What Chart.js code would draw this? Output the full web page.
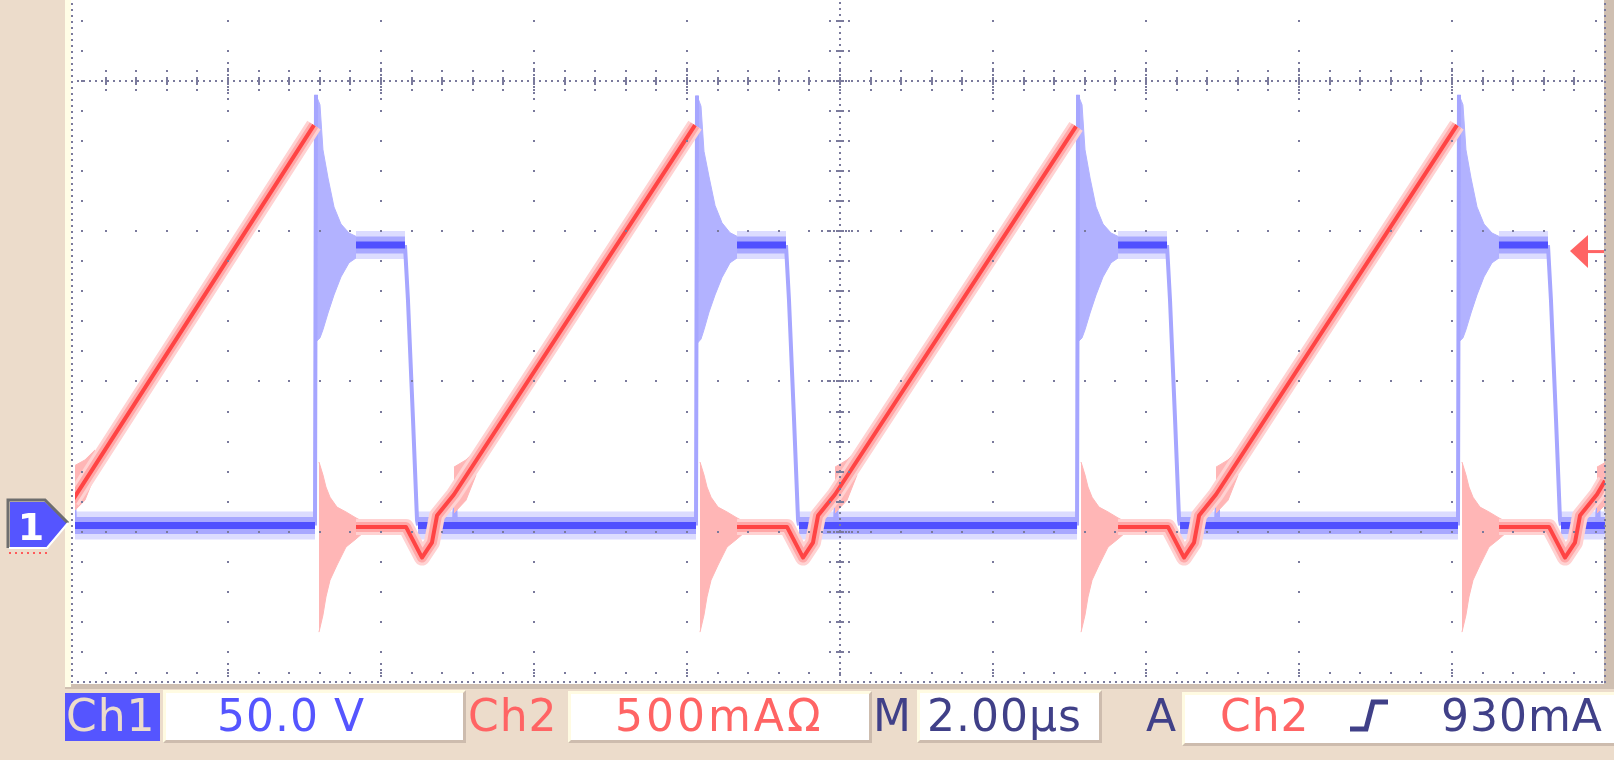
<!DOCTYPE html>
<html><head><meta charset="utf-8">
<script src="https://cdn.jsdelivr.net/npm/chart.js@4.4.0/dist/chart.umd.min.js"></script>
<style>
html,body{margin:0;padding:0;background:#ecdccb;overflow:hidden;}
#wrap{position:relative;width:1614px;height:760px;}
#c{position:absolute;left:0;top:0;}
.box{position:absolute;background:#fff;box-sizing:border-box;border-top:3px solid #fffbe2;border-left:3px solid #fffbe2;border-right:3px solid #cdbcae;border-bottom:3px solid #cdbcae;}
.t{position:absolute;top:694px;font-family:"DejaVu Sans";font-size:44px;line-height:44px;letter-spacing:1px;white-space:nowrap;}
#ov{position:absolute;left:0;top:0;}
</style></head>
<body><div id="wrap">
<canvas id="c" width="1614" height="760"></canvas>
<div style="position:absolute;left:65px;top:693px;width:95px;height:48px;background:#5555ff"></div>
<div class="t" style="left:66px;color:#ecdccb">Ch1</div>
<div class="box" style="left:163px;top:690px;width:303px;height:53px"></div>
<div class="t" style="left:217px;color:#5555ff">50.0 V</div>
<div class="t" style="left:468px;color:#ff6464">Ch2</div>
<div class="box" style="left:568px;top:691px;width:304px;height:52px"></div>
<div class="t" style="left:615px;color:#ff6464;letter-spacing:3px">500mAΩ</div>
<div class="t" style="left:873px;color:#404088">M</div>
<div class="box" style="left:917px;top:690px;width:185px;height:53px"></div>
<div class="t" style="left:927px;color:#404088">2.00µs</div>
<div class="t" style="left:1146px;color:#404088">A</div>
<div class="box" style="left:1182px;top:692px;width:440px;height:54px"></div>
<div class="t" style="left:1220px;color:#ff6464">Ch2</div>
<div class="t" style="left:1441px;color:#404088">930mA</div>
<svg id="ov" width="1614" height="760">
  <polygon points="10,502 45,502 68,523 47,547 10,547" fill="#5555ff"/>
  <polyline points="8,548 8,500 45,500 68,523" stroke="#6e6e6e" stroke-width="3" fill="none"/>
  <polyline points="68,523 47,548 9,548" stroke="#ffffff" stroke-width="2" fill="none"/>
  <line x1="9" y1="553" x2="50" y2="553" stroke="#ff5a5a" stroke-width="2" stroke-dasharray="2,4"/>
  <text x="31" y="540" fill="#ffffff" font-family="DejaVu Sans" font-weight="bold" font-size="38" text-anchor="middle">1</text>
  <polyline points="1350,729 1366,729 1373,702 1388,702" stroke="#404088" stroke-width="5" fill="none"/>
</svg>
</div>
<script>
// ---- scope settings ----
const CH1_VOLTS_PER_DIV = 50;     // Ch1 50.0 V/div
const CH2_AMPS_PER_DIV = 0.5;     // Ch2 500 mA/div
const TIME_PER_DIV = 2.0;         // 2.00 us/div
const CH1_ZERO_DIV = -2.948;      // ground marker "1"
const CH2_ZERO_DIV = -2.992;
const TRIGGER_AMPS = 0.93;        // trigger level 930 mA on Ch2
const DIV_TOP = 0.539, DIV_BOTTOM = -4;
const TIME_MIN = 0.039, TIME_MAX = 20;

// ---- Ch1 (blue, volts) ----
const ch1CoreTime = [0,3.170,null, 3.705,4.344,null, 4.514,8.141,null, 8.676,9.315,null, 9.485,13.112,null, 13.647,14.286,null, 14.456,18.082,null, 18.617,19.256,null, 19.426,20];
const ch1CoreVolts = [-0.5,-0.5,null, 92.8,92.8,null, -0.5,-0.5,null, 92.8,92.8,null, -0.5,-0.5,null, 92.8,92.8,null, -0.5,-0.5,null, 92.8,92.8,null, -0.5,-0.5];

const ch1EdgeTime = [0.013,0.026,0.039,null,
 3.170,3.183,null, 4.344,4.383,4.449,4.501,4.514,null, 4.983,4.996,5.009,null,
 8.141,8.154,null, 9.315,9.354,9.420,9.472,9.485,null, 9.954,9.967,9.980,null,
 13.112,13.125,null, 14.286,14.325,14.391,14.443,14.456,null, 14.925,14.938,14.951,null,
 18.082,18.095,null, 19.256,19.295,19.361,19.413,19.426,null, 19.895,19.908,19.921];
const ch1EdgeVolts = [-0.5,9,-0.5,null,
 -0.5,142.8,null, 92.8,74.5,34.6,1.3,-0.5,null, -0.5,9,-0.5,null,
 -0.5,142.6,null, 92.8,74.5,34.6,1.3,-0.5,null, -0.5,9,-0.5,null,
 -0.5,142.8,null, 92.8,74.5,34.6,1.3,-0.5,null, -0.5,9,-0.5,null,
 -0.5,142.8,null, 92.8,74.5,34.6,1.3,-0.5,null, -0.5,9,-0.5];

const ch1RingTime = [3.183,3.235,3.274,3.340,3.418,3.509,3.614,3.744,3.809,null,
 8.154,8.206,8.245,8.311,8.389,8.480,8.585,8.715,8.780,null,
 13.125,13.177,13.216,13.282,13.360,13.451,13.556,13.686,13.751,null,
 18.095,18.147,18.186,18.252,18.330,18.421,18.526,18.656,18.721];
const ch1RingHigh = [142.8,139.5,124.5,115.1,105.5,99.8,96.8,95.2,93.9,null,
 142.6,139.0,124.0,115.5,106.0,100.2,96.9,95.2,93.9,null,
 142.8,139.5,124.5,115.1,105.5,99.8,96.8,95.2,93.9,null,
 142.8,139.5,124.5,115.1,105.5,99.8,96.8,95.2,93.9];
const ch1RingLow = [60.6,61.9,64.6,70.2,76.2,82.2,86.9,89.2,91.2,null,
 60.0,61.5,64.6,70.5,76.2,82.0,86.9,89.2,91.2,null,
 60.6,61.9,64.6,70.2,76.2,82.2,86.9,89.2,91.2,null,
 60.6,61.9,64.6,70.2,76.2,82.2,86.9,89.2,91.2];

// ---- Ch2 (red, amps) ----
const ch2CoreTime = [0,3.157,null,
 3.705,4.357,4.566,4.696,4.762,4.983,8.128,null,
 8.676,9.328,9.537,9.667,9.733,9.954,13.099,null,
 13.647,14.299,14.508,14.638,14.704,14.925,18.069,null,
 18.617,19.269,19.478,19.608,19.674,19.895,20];
const ch2CoreAmps = [0.098,1.349,null,
 0.012,0.012,-0.090,-0.040,0.050,0.120,1.349,null,
 0.012,0.012,-0.090,-0.040,0.050,0.120,1.345,null,
 0.012,0.012,-0.090,-0.040,0.050,0.120,1.349,null,
 0.012,0.012,-0.090,-0.040,0.050,0.120,0.166];

const ch2RingTime = [0,0.169,0.299,null,
 3.222,3.274,3.313,3.366,3.457,3.574,3.705,3.809,null, 4.983,5.140,5.270,null,
 8.193,8.245,8.284,8.337,8.428,8.545,8.676,8.780,null, 9.954,10.111,10.241,null,
 13.164,13.216,13.255,13.308,13.399,13.516,13.647,13.751,null, 14.925,15.082,15.212,null,
 18.134,18.186,18.225,18.278,18.369,18.486,18.617,18.721,null, 19.895,20];
const ch2RingHigh = [0.211,0.235,0.268,null,
 0.228,0.185,0.145,0.111,0.078,0.062,0.042,0.028,null, 0.211,0.235,0.268,null,
 0.228,0.185,0.145,0.111,0.078,0.062,0.042,0.028,null, 0.211,0.235,0.268,null,
 0.228,0.185,0.145,0.111,0.078,0.062,0.042,0.028,null, 0.211,0.235,0.268,null,
 0.228,0.185,0.145,0.111,0.078,0.062,0.042,0.028,null, 0.211,0.226];
const ch2RingLow = [0.058,0.101,0.185,null,
 -0.338,-0.281,-0.221,-0.165,-0.115,-0.055,-0.028,-0.005,null, 0.058,0.101,0.185,null,
 -0.338,-0.281,-0.221,-0.165,-0.115,-0.055,-0.028,-0.005,null, 0.058,0.101,0.185,null,
 -0.338,-0.281,-0.221,-0.165,-0.115,-0.055,-0.028,-0.005,null, 0.058,0.101,0.185,null,
 -0.338,-0.281,-0.221,-0.165,-0.115,-0.055,-0.028,-0.005,null, 0.058,0.085];

// ---- styling ----
const GRID_COLOR = '#7a7a9c';
const BLUE_OUTER = '#dcdcff', BLUE_MID = '#a8a8ff', BLUE_CORE = '#5050ff', BLUE_EDGE = '#a6a6ff', BLUE_RING = '#b2b2ff';
const RED_OUTER = '#ffd2d2', RED_MID = '#ffa8a8', RED_CORE = '#ff4444', RED_RING = '#ffb6b6';

function pts(times, vals){
  return times.map((t,i)=> t===null ? {x: times[i-1], y: null} : {x: t, y: vals[i]});
}
function segs(times, a, b){
  const out=[]; let cur=null;
  times.forEach((t,i)=>{
    if(t===null){cur=null;return;}
    if(!cur){cur=[[],[]];out.push(cur);}
    cur[0].push({x:t,y:a[i]}); cur[1].push({x:t,y:b[i]});
  });
  return out;
}
function line(data, axis, color, width, order){
  return {data, yAxisID: axis, xAxisID:'x', borderColor: color, borderWidth: width, pointRadius:0,
    tension:0, fill:false, spanGaps:false, borderJoinStyle:'round', borderCapStyle:'butt', order, clip:0};
}
const datasets = [];
segs(ch1RingTime, ch1RingHigh, ch1RingLow).forEach(([hi,lo])=>{
  datasets.push(Object.assign(line(hi,'y1',BLUE_RING,1,20),{}));
  datasets.push(Object.assign(line(lo,'y1',BLUE_RING,1,20),{fill:'-1', backgroundColor:BLUE_RING}));
});
datasets.push(line(pts(ch1CoreTime,ch1CoreVolts),'y1',BLUE_OUTER,28,19));
datasets.push(line(pts(ch1CoreTime,ch1CoreVolts),'y1',BLUE_MID,17,18));
datasets.push(line(pts(ch1EdgeTime,ch1EdgeVolts),'y1',BLUE_EDGE,4,17));
datasets.push(line(pts(ch1CoreTime,ch1CoreVolts),'y1',BLUE_CORE,7,16));
segs(ch2RingTime, ch2RingHigh, ch2RingLow).forEach(([hi,lo])=>{
  datasets.push(line(hi,'y2',RED_RING,1,10));
  datasets.push(Object.assign(line(lo,'y2',RED_RING,1,10),{fill:'-1', backgroundColor:RED_RING}));
});
datasets.push(line(pts(ch2CoreTime,ch2CoreAmps),'y2',RED_OUTER,16,9));
datasets.push(line(pts(ch2CoreTime,ch2CoreAmps),'y2',RED_MID,10,8));
datasets.push(line(pts(ch2CoreTime,ch2CoreAmps),'y2',RED_CORE,4,7));

const frame = {
  id:'frame',
  beforeDraw(chart){
    const ctx=chart.ctx; ctx.save();
    ctx.fillStyle='#ecdccb'; ctx.fillRect(0,0,1614,760);
    ctx.fillStyle='#cfbfb1'; ctx.fillRect(65,0,1614-65,689);
    ctx.fillStyle='#fffde6'; ctx.fillRect(65,0,6,687);
    ctx.fillStyle='#ffffff'; ctx.fillRect(71,0,1604-71,684);
    ctx.restore();
  }
};
const graticule = {
  id:'graticule',
  afterDatasetsDraw(chart){
    const ctx=chart.ctx, {left:L,right:R,top:T,bottom:B}=chart.chartArea;
    const gx=chart.scales.gx, gy=chart.scales.gy;
    ctx.save(); ctx.fillStyle=GRID_COLOR;
    const d=(x,y,w=2,h=2)=>ctx.fillRect(Math.round(x-w/2),Math.round(y-h/2),w,h);
    const x0=gx.getPixelForValue(5), y0=gy.getPixelForValue(0);
    const mX=[]; for(let i=1;i<50;i++) mX.push(gx.getPixelForValue(i*0.2));
    const mY=[]; for(let j=1;j<=22;j++) mY.push(gy.getPixelForValue(DIV_BOTTOM+0.2*j));
    // borders
    for(let y=B;y>=T;y-=6){ d(L-3,y); d(R,y); }
    for(let x=L-3;x<=R;x+=6) d(x,B);
    mY.forEach(y=>{ d(L+7,y); d(R-9,y); });
    mX.forEach(x=>d(x,B-9));
    // vertical major lines
    for(let k=1;k<10;k++){
      if(k===5) continue;
      const x=gx.getPixelForValue(k);
      mY.forEach(y=>d(x,y));
      for(let n=-3;n<=3;n++) d(x,y0+6*n);
      d(x,B-6); d(x,B-12); d(x,B-18);
    }
    // horizontal major lines
    [-3,-2,-1].forEach(v=>{
      const y=gy.getPixelForValue(v);
      mX.forEach(x=>d(x,y));
      for(let n=-3;n<=3;n++) d(x0+6*n,y);
    });
    // center horizontal
    for(let x=x0;x>=L;x-=6) d(x,y0);
    for(let x=x0+6;x<=R;x+=6) d(x,y0);
    mX.forEach(x=>{ d(x,y0-10); d(x,y0,2,8); d(x,y0+9); });
    // center vertical
    for(let y=y0;y<=B;y+=6) d(x0,y);
    for(let y=y0-6;y>=T;y-=6) d(x0,y);
    mY.forEach(y=>{ d(x0-10,y); d(x0,y,8,2); d(x0+9,y); });
    // trigger level arrow (Ch2)
    const ty=chart.scales.y2.getPixelForValue(TRIGGER_AMPS);
    ctx.fillStyle='#ff6464';
    ctx.beginPath(); ctx.moveTo(1570,ty); ctx.lineTo(1588,ty-16); ctx.lineTo(1588,ty+17); ctx.closePath(); ctx.fill();
    ctx.fillRect(1588,ty-1,16,3);
    ctx.restore();
  }
};

new Chart(document.getElementById('c'), {
  type:'line',
  data:{datasets},
  options:{
    responsive:false, animation:false, events:[],
    layout:{padding:{left:75,right:9,top:0,bottom:78}},
    plugins:{legend:{display:false},tooltip:{enabled:false}},
    scales:{
      x:{type:'linear',axis:'x',min:TIME_MIN,max:TIME_MAX,display:false},
      gx:{type:'linear',axis:'x',min:0,max:TIME_MAX/TIME_PER_DIV,display:false},
      y1:{type:'linear',axis:'y',min:(DIV_BOTTOM-CH1_ZERO_DIV)*CH1_VOLTS_PER_DIV,max:(DIV_TOP-CH1_ZERO_DIV)*CH1_VOLTS_PER_DIV,display:false},
      y2:{type:'linear',axis:'y',min:(DIV_BOTTOM-CH2_ZERO_DIV)*CH2_AMPS_PER_DIV,max:(DIV_TOP-CH2_ZERO_DIV)*CH2_AMPS_PER_DIV,display:false},
      gy:{type:'linear',axis:'y',min:DIV_BOTTOM,max:DIV_TOP,display:false}
    }
  },
  plugins:[frame,graticule]
});
</script>
</body></html>
